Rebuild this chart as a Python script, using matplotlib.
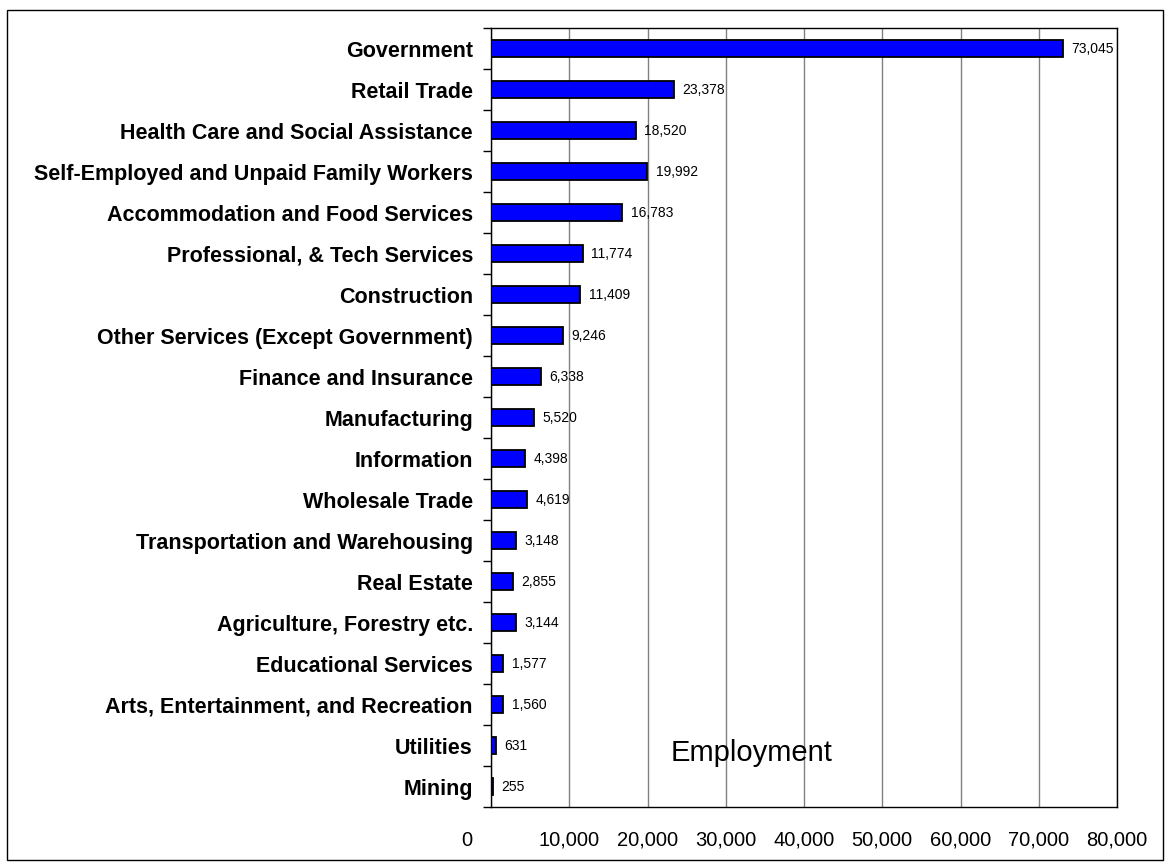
import numpy as np
import matplotlib
matplotlib.use('Agg')
import matplotlib.pyplot as plt
from matplotlib.patches import Rectangle
from matplotlib.transforms import ScaledTranslation

plt.rcParams['font.family'] = ['Liberation Sans', 'DejaVu Sans']

industries = ['Government', 'Retail Trade', 'Health Care and Social Assistance',
	'Self-Employed and Unpaid Family Workers', 'Accommodation and Food Services',
	'Professional, & Tech Services', 'Construction',
	'Other Services (Except Government)', 'Finance and Insurance',
	'Manufacturing', 'Information', 'Wholesale Trade',
	'Transportation and Warehousing', 'Real Estate',
	'Agriculture, Forestry etc.', 'Educational Services',
	'Arts, Entertainment, and Recreation', 'Utilities', 'Mining']
employment = [73045, 23378, 18520, 19992, 16783, 11774, 11409, 9246, 6338,
	5520, 4398, 4619, 3148, 2855, 3144, 1577, 1560, 631, 255]
xticks = [0, 10000, 20000, 30000, 40000, 50000, 60000, 70000, 80000]

fig = plt.figure(figsize=(11.7, 8.67), dpi=100)
ax = fig.add_axes([491/1170, 1-807/867, (1117-491)/1170, (807-28)/867])

y = np.arange(len(industries))
ax.barh(y, employment, height=0.4, color='#0000FF', edgecolor='black',
	linewidth=1.3, zorder=3)

for yi, v in zip(y, employment):
	ax.annotate('{:,}'.format(v), (v, yi), xytext=(6, 0),
		textcoords='offset points', va='center', ha='left', fontsize=10, zorder=4)

ax.set_xlim(0, 80000)
ax.set_ylim(len(industries)-0.5, -0.5)

# category names sit on minor ticks, tick marks go on the boundaries
ax.set_yticks(np.arange(len(industries)+1)-0.5)
ax.set_yticklabels([])
ax.set_yticks(y, minor=True)
ax.set_yticklabels(industries, minor=True, fontsize=15.5, fontweight='bold')
ax.tick_params(axis='y', which='major', length=6, width=1, direction='out')
ax.tick_params(axis='y', which='minor', length=0, pad=13)

ax.set_xticks(xticks)
ax.set_xticklabels(['{:,}'.format(t) for t in xticks], fontsize=14.5)
ax.tick_params(axis='x', length=0, pad=17)
lbl0 = ax.get_xticklabels()[0]
lbl0.set_transform(lbl0.get_transform() + ScaledTranslation(-0.24, 0, fig.dpi_scale_trans))

ax.grid(axis='x', color='#808080', linewidth=1, zorder=0)
for s in ax.spines.values():
	s.set_color('black')
	s.set_linewidth(1)

ax.text(23000, 0.059, 'Employment', transform=ax.get_xaxis_transform(),
	fontsize=21, ha='left', va='baseline', zorder=4)

fig.patches.append(Rectangle((7/1170, 1-860/867), (1163-7)/1170, (860-10)/867,
	transform=fig.transFigure, fill=False, edgecolor='black', linewidth=1))

fig.savefig('out.png', dpi=100)
